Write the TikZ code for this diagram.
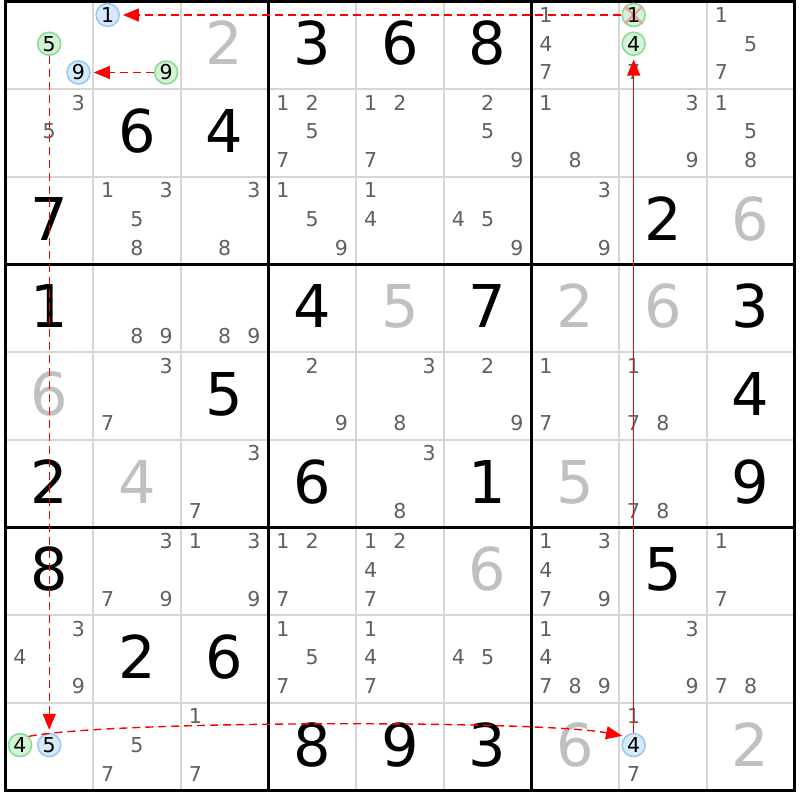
\documentclass[tikz,border=0pt]{standalone}
\usepackage{fontspec}
\setmainfont{DejaVu Sans}
\usetikzlibrary{arrows.meta}
\definecolor{candgray}{HTML}{606060}
\definecolor{placedgray}{HTML}{C0C0C0}
\definecolor{thingray}{HTML}{D6D6D6}
\definecolor{bluedraw}{HTML}{9CC8F4}
\definecolor{bluefill}{HTML}{D6EAFC}
\definecolor{greendraw}{HTML}{88DC98}
\definecolor{greenfill}{HTML}{D4F2D6}
\definecolor{xred}{HTML}{F0A0A0}
\begin{document}
\begin{tikzpicture}[x=1pt,y=-1pt,
  thinline/.style={draw=thingray,line width=2pt},
  thickline/.style={draw=black,line width=3pt},
  candtext/.style={font=\fontsize{20.5}{20.5}\selectfont,text=candgray,inner sep=0pt,text height=15pt,text depth=0pt},
  circtext/.style={candtext,text=black},
  bigtext/.style={font=\fontsize{59}{59}\selectfont,inner sep=0pt,text height=43pt,text depth=0pt},
  giventext/.style={bigtext,text=black},
  placedtext/.style={bigtext,text=placedgray},
  bluec/.style={circle,draw=bluedraw,fill=bluefill,line width=1.6pt,minimum size=23pt,inner sep=0pt},
  greenc/.style={bluec,draw=greendraw,fill=greenfill},
  crossline/.style={draw=xred,line width=2.5pt},
  linkline/.style={draw=red,line width=1.4pt,dash pattern=on 8pt off 5pt,-{Triangle[length=16pt,width=13pt]},shorten >=3pt},
  strongline/.style={draw=red,line width=1.4pt,-{Triangle[length=16pt,width=13pt]},shorten >=3.5pt}]
\useasboundingbox (0,0) rectangle (800,800);
\fill[white] (0,0) rectangle (800,800);
% thin grid lines
\foreach \i in {1,2,4,5,7,8} {
  \draw[thinline] ({5.5+87.667*\i},1.5) -- ({5.5+87.667*\i},790.5);
  \draw[thinline] (5.5,{1.5+87.667*\i}) -- (794.5,{1.5+87.667*\i});
}
% thick grid lines
\foreach \i in {3,6} {
  \draw[thickline] ({5.5+87.667*\i},1.5) -- ({5.5+87.667*\i},790.5);
  \draw[thickline] (5.5,{1.5+87.667*\i}) -- (794.5,{1.5+87.667*\i});
}
\draw[thickline] (5.5,1.5) rectangle (794.5,790.5);
% given digits
\foreach \r/\c/\d in {0/3/3,0/4/6,0/5/8,1/1/6,1/2/4,2/0/7,2/7/2,3/0/1,3/3/4,3/5/7,3/8/3,4/2/5,4/8/4,5/0/2,5/3/6,5/5/1,5/8/9,6/0/8,6/7/5,7/1/2,7/2/6,8/3/8,8/4/9,8/5/3} {
  \node[giventext] (v\r\c) at ({49.33+87.667*\c},{43.33+87.667*\r}) {\d};
}
% placed digits
\foreach \r/\c/\d in {0/2/2,2/8/6,3/4/5,3/6/2,3/7/6,4/0/6,5/1/4,5/6/5,6/5/6,8/6/6,8/8/2} {
  \node[placedtext] (v\r\c) at ({49.33+87.667*\c},{43.33+87.667*\r}) {\d};
}
% candidates
\foreach \r/\c/\d in {0/6/1,0/6/4,0/6/7,0/7/7,0/8/1,0/8/5,0/8/7,
  1/0/3,1/0/5,1/3/1,1/3/2,1/3/5,1/3/7,1/4/1,1/4/2,1/4/7,1/5/2,1/5/5,1/5/9,1/6/1,1/6/8,1/7/3,1/7/9,1/8/1,1/8/5,1/8/8,
  2/1/1,2/1/3,2/1/5,2/1/8,2/2/3,2/2/8,2/3/1,2/3/5,2/3/9,2/4/1,2/4/4,2/5/4,2/5/5,2/5/9,2/6/3,2/6/9,
  3/1/8,3/1/9,3/2/8,3/2/9,
  4/1/3,4/1/7,4/3/2,4/3/9,4/4/3,4/4/8,4/5/2,4/5/9,4/6/1,4/6/7,4/7/1,4/7/7,4/7/8,
  5/2/3,5/2/7,5/4/3,5/4/8,5/7/7,5/7/8,
  6/1/3,6/1/7,6/1/9,6/2/1,6/2/3,6/2/9,6/3/1,6/3/2,6/3/7,6/4/1,6/4/2,6/4/4,6/4/7,6/6/1,6/6/3,6/6/4,6/6/7,6/6/9,6/8/1,6/8/7,
  7/0/3,7/0/4,7/0/9,7/3/1,7/3/5,7/3/7,7/4/1,7/4/4,7/4/7,7/5/4,7/5/5,7/6/1,7/6/4,7/6/7,7/6/8,7/6/9,7/7/3,7/7/9,7/8/7,7/8/8,
  8/1/5,8/1/7,8/2/1,8/2/7,8/7/1,8/7/7} {
  \pgfmathsetmacro\px{20+87.667*\c+29.25*mod(\d-1,3)}
  \pgfmathsetmacro\py{15+87.667*\r+28.75*floor((\d-1)/3)}
  \node[candtext] (k\r\c\d) at (\px,\py) {\d};
}
% highlighted candidates
\foreach \r/\c/\d/\s in {0/0/5/greenc,0/0/9/bluec,0/1/1/bluec,0/1/9/greenc,0/7/1/greenc,0/7/4/greenc,8/0/4/greenc,8/0/5/bluec,8/7/4/bluec} {
  \pgfmathsetmacro\px{20+87.667*\c+29.25*mod(\d-1,3)}
  \pgfmathsetmacro\py{15+87.667*\r+28.75*floor((\d-1)/3)}
  \node[\s] (o\r\c\d) at (\px,\py) {};
}
\draw[crossline] (o071.45) -- (o071.225) (o071.135) -- (o071.315);
\foreach \r/\c/\d in {0/0/5,0/0/9,0/1/1,0/1/9,0/7/1,0/7/4,8/0/4,8/0/5,8/7/4} {
  \node[circtext] (t\r\c\d) at (o\r\c\d) {\d};
}
% chain links
\draw[linkline] (o071) -- (o011);
\draw[linkline] (o019) -- (o009);
\draw[linkline] (o005) -- (o805);
\draw[linkline] (o804.45) .. controls +(-11:85) and +(191:85) .. (o874.135);
\draw[strongline] (o874) -- (o074);
\end{tikzpicture}
\end{document}
